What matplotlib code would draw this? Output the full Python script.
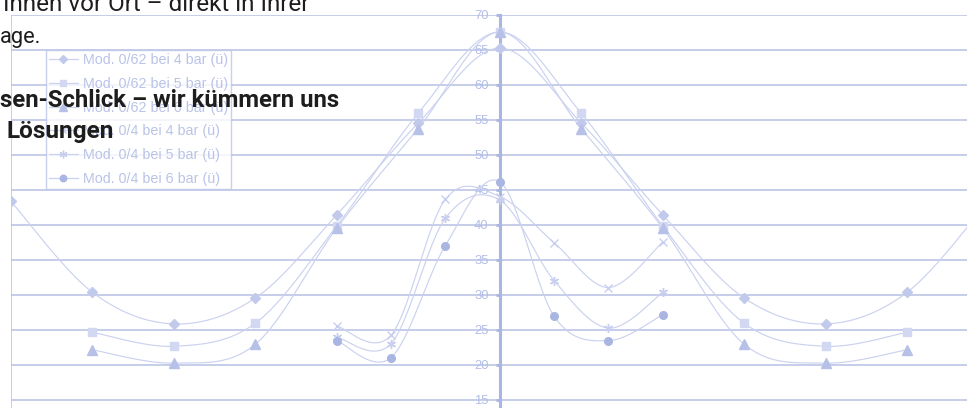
import numpy as np
import matplotlib
matplotlib.use("Agg")
import matplotlib.pyplot as plt
from matplotlib.lines import Line2D

# ---------------- data ----------------
angles_62 = [-90, -75, -60, -45, -30, -15, 0, 15, 30, 45, 60, 75, 90]
angles_62s = [-75, -60, -45, -30, -15, 0, 15, 30, 45, 60, 75]
angles_4 = [-30, -20, -10, 0, 10, 20, 30]

mod62_4bar = [43.3, 30.3, 25.8, 29.5, 41.4, 54.5, 65.2, 54.5, 41.4, 29.5, 25.8, 30.3, 43.3]
mod62_5bar = [24.6, 22.6, 25.9, 39.8, 55.9, 67.5, 55.9, 39.8, 25.9, 22.6, 24.6]
mod62_6bar = [22.1, 20.2, 22.9, 39.5, 53.7, 67.5, 53.7, 39.5, 22.9, 20.2, 22.1]
mod4_4bar = [25.5, 24.2, 43.6, 44.0, 37.4, 31.0, 37.5]
mod4_5bar = [23.9, 23.0, 40.9, 43.5, 32.0, 25.2, 30.3]
mod4_6bar = [23.4, 21.0, 37.0, 46.1, 26.9, 23.4, 27.1]

labels = ["Mod. 0/62 bei 4 bar (ü)", "Mod. 0/62 bei 5 bar (ü)", "Mod. 0/62 bei 6 bar (ü)",
          "Mod. 0/4 bei 4 bar (ü)", "Mod. 0/4 bei 5 bar (ü)", "Mod. 0/4 bei 6 bar (ü)"]
yticks = [15, 20, 25, 30, 35, 40, 45, 50, 55, 60, 65, 70]

page_lines = ["Ihnen vor Ort – direkt in Ihrer", "age."]
page_bold = ["sen-Schlick – wir kümmern uns", "Lösungen"]


def smooth(xs, ys, n=30):
    """Catmull-Rom style Bezier smoothing (like Excel smoothed lines)."""
    P = np.column_stack([xs, ys]).astype(float)
    ext = np.vstack([P[0], P, P[-1]])
    out = []
    t = np.linspace(0, 1, n)[:, None]
    for i in range(1, len(ext) - 2):
        p0, p1, p2, p3 = ext[i - 1], ext[i], ext[i + 1], ext[i + 2]
        c1 = p1 + (p2 - p0) / 6.0
        c2 = p2 - (p3 - p1) / 6.0
        seg = ((1 - t) ** 3) * p1 + 3 * ((1 - t) ** 2) * t * c1 + 3 * (1 - t) * t ** 2 * c2 + t ** 3 * p2
        out.append(seg if i == 1 else seg[1:])
    out = np.vstack(out)
    return out[:, 0], out[:, 1]


W, H = 967, 408
fig = plt.figure(figsize=(W / 100, H / 100), dpi=100)
fig.patch.set_facecolor("white")

# axes: x -90 at px 11, +90 at px 988.5; y 70 at px 14.5, 0 at px 504.5
x_left, x_right = 11, 988.5
y_top = 14.5
ppu = 7.0
y_bot = y_top + 70 * ppu
ax = fig.add_axes([x_left / W, (H - y_bot) / H, (x_right - x_left) / W, (y_bot - y_top) / H])
ax.set_xlim(-90, 90)
ax.set_ylim(0, 70)
ax.set_facecolor("none")

grid_c = "#b6c0e4"
axis_c = "#a9b6e0"
line_c = "#cbd2ef"

for v in range(0, 71, 5):
    ax.axhline(v, color=grid_c, lw=1.1, zorder=1)
ax.axvline(-90, color=grid_c, lw=1.1, zorder=1)

for s in ["top", "right", "bottom"]:
    ax.spines[s].set_visible(False)
ax.spines["left"].set_position(("data", 0))
ax.spines["left"].set_color(axis_c)
ax.spines["left"].set_linewidth(2.2)
ax.spines["left"].set_zorder(2)
ax.set_xticks([])
ax.set_yticks(yticks)
ax.set_yticklabels([str(v) for v in yticks])
ax.tick_params(axis="y", direction="out", length=3, width=2, color=axis_c,
               labelcolor="#b4bee6", labelsize=9.4, pad=5)
for t in ax.get_yticklabels():
    t.set_fontfamily("Liberation Sans")

series = [
    (angles_62, mod62_4bar, "D", 5.0, "#c2caec"),
    (angles_62s, mod62_5bar, "s", 5.5, "#d2d8f2"),
    (angles_62s, mod62_6bar, "^", 6.5, "#b7c1e8"),
    (angles_4, mod4_4bar, "x", 5.5, "#c8cfee"),
    (angles_4, mod4_5bar, (6, 2, 0), 6.5, "#c8cfee"),
    (angles_4, mod4_6bar, "o", 5.5, "#aab6e2"),
]
handles = []
for (xs, ys, mk, ms, mc), lab in zip(series, labels):
    sx, sy = smooth(xs, ys)
    ax.plot(sx, sy, color=line_c, lw=0.85, zorder=3)
    ax.plot(xs, ys, ls="none", marker=mk, ms=ms, color=mc, mec=mc, mew=1.0, zorder=4)
    handles.append(Line2D([], [], color=line_c, lw=0.9, marker=mk, ms=ms * 0.85,
                          markerfacecolor=mc, markeredgecolor=mc))

leg = fig.legend(handles, labels, loc="upper left", bbox_to_anchor=(46 / W, 1 - 50 / H),
                 borderaxespad=0, frameon=True, fancybox=False, edgecolor="#bcc5e8",
                 prop={"family": "Liberation Sans", "size": 10.3}, labelcolor="#bac3e8",
                 handlelength=2.0, handletextpad=0.35, labelspacing=0.68,
                 borderpad=0.22)
leg.get_frame().set_linewidth(1.0)
leg.set_zorder(5)

# overlaid web page text
def place(txt, x, base, target_w, weight):
    t = fig.text(x / W, 1 - base / H, txt, fontsize=14, fontweight=weight,
                 family=["Roboto", "DejaVu Sans"], color="#1d1d1d", va="baseline", ha="left",
                 zorder=10)
    r = fig.canvas.get_renderer()
    w = t.get_window_extent(r).width
    t.set_fontsize(14 * target_w / w)
    return t

place(page_lines[0], 3, 11, 310, "normal")
place(page_lines[1], 0, 43.5, 42, "normal")
place(page_bold[0], 0, 107, 340, "bold")
place(page_bold[1], 7, 138, 108, "bold")

fig.savefig("out.png", dpi=100, facecolor="white")
